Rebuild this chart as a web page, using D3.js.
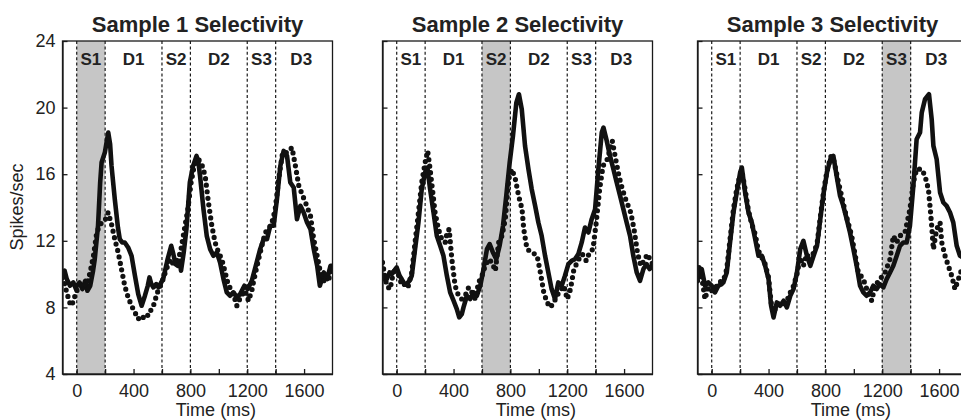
<!DOCTYPE html>
<html>
<head>
<meta charset="utf-8">
<script src="https://cdn.jsdelivr.net/npm/d3@7"></script>
<style>
body { margin:0; background:#fff; }
svg text { font-family: Arial, "Liberation Sans", Helvetica, sans-serif; fill:#222; }
</style>
</head>
<body>
<svg id="chart" width="961" height="420"></svg>
<script>
// titles, epochs and ticks
var panelTitles = ["Sample 1 Selectivity", "Sample 2 Selectivity", "Sample 3 Selectivity"];
var epochLines = [0, 200, 600, 800, 1200, 1400];
var epochNames = ["S1", "D1", "S2", "D2", "S3", "D3"];
var epochMid = [100, 400, 700, 1000, 1300, 1580];
var shadedEpoch = [[0, 200], [600, 800], [1200, 1400]];
var yTicks = [4, 8, 12, 16, 20, 24];
var xTicks = [0, 200, 400, 600, 800, 1000, 1200, 1400, 1600];

// firing rate traces [time ms, spikes/sec]
var p1Solid = [[-100,10.0],[-85,10.2],[-70,9.7],[-47,9.3],[-24,9.5],[-5,9.1],[0,9.3],[20,9.5],[40,9.1],[60,9.6],[75,9.0],[95,9.3],[115,10.2],[127,10.9],[150,12.9],[165,15.5],[175,16.7],[198,17.3],[212,18.0],[222,18.5],[235,17.8],[245,16.5],[268,14.5],[290,12.8],[303,12.1],[320,11.9],[338,11.9],[362,11.6],[386,11.1],[410,9.9],[433,8.8],[457,8.1],[480,8.7],[500,9.3],[512,9.8],[525,9.4],[540,9.2],[560,9.4],[576,9.2],[595,9.5],[611,9.8],[640,10.9],[665,11.7],[680,11.2],[695,10.6],[710,10.5],[725,10.8],[734,10.2],[753,11.3],[772,12.7],[796,15.5],[819,16.5],[843,17.1],[855,16.8],[868,15.9],[892,13.9],[915,12.3],[939,11.5],[962,11.1],[986,11.3],[1009,10.7],[1033,9.7],[1056,8.9],[1080,8.7],[1103,8.9],[1127,8.6],[1150,8.8],[1180,9.3],[1204,9.1],[1232,9.6],[1260,10.5],[1291,11.5],[1315,12.1],[1339,12.1],[1362,12.9],[1386,12.9],[1409,14.5],[1433,16.5],[1456,17.4],[1480,17.1],[1503,15.5],[1527,15.2],[1550,13.3],[1574,14.1],[1597,13.7],[1621,13.1],[1645,12.7],[1668,11.5],[1692,10.5],[1711,9.3],[1739,10.1],[1762,9.7],[1786,10.5],[1800,10.5]];
var p1Dotted = [[-100,9.8],[-85,9.4],[-70,8.9],[-50,8.3],[-35,8.1],[-20,8.5],[0,9.0],[20,9.2],[47,9.5],[70,9.3],[94,10.1],[118,11.1],[141,12.5],[165,13.0],[198,13.2],[221,13.7],[245,13.0],[268,12.1],[292,11.3],[315,10.3],[338,9.3],[362,8.6],[386,8.1],[410,7.7],[433,7.3],[450,7.5],[468,7.4],[485,7.6],[504,7.5],[520,7.8],[540,8.1],[568,8.9],[600,9.5],[631,10.3],[660,10.9],[680,10.6],[696,10.7],[715,11.0],[730,11.3],[758,12.7],[782,13.9],[805,15.5],[829,16.6],[857,16.9],[880,16.6],[904,15.9],[927,14.3],[951,12.9],[974,11.9],[998,11.3],[1021,10.9],[1045,10.1],[1068,9.3],[1096,9.0],[1127,8.1],[1157,8.7],[1185,9.0],[1209,8.4],[1232,9.0],[1256,10.0],[1280,10.9],[1303,11.7],[1327,12.5],[1350,12.7],[1374,13.1],[1397,13.9],[1421,15.7],[1449,17.3],[1480,17.3],[1515,17.6],[1539,16.5],[1563,15.3],[1586,14.8],[1610,14.3],[1645,13.5],[1668,12.1],[1692,11.1],[1715,10.1],[1739,9.6],[1774,9.7],[1800,10.5]];

var p2Solid = [[-100,9.9],[-90,9.7],[-70,9.7],[-50,10.1],[-35,10.0],[0,10.4],[20,9.9],[35,9.7],[55,9.4],[70,9.4],[90,9.6],[106,9.9],[129,11.5],[153,13.1],[176,15.1],[200,16.1],[216,16.4],[235,15.1],[259,13.7],[282,12.3],[306,11.7],[329,11.1],[353,9.9],[376,8.9],[400,8.4],[423,7.9],[440,7.4],[458,7.6],[470,8.0],[494,8.7],[517,8.5],[541,8.9],[564,8.7],[588,9.3],[611,10.3],[635,11.5],[654,11.8],[677,11.3],[701,10.9],[724,11.7],[748,12.9],[771,14.7],[795,16.7],[818,18.3],[842,20.3],[860,20.8],[880,19.9],[903,17.7],[927,16.3],[950,15.1],[974,14.1],[997,13.1],[1020,12.3],[1044,11.1],[1067,10.1],[1090,9.1],[1114,8.5],[1137,9.5],[1161,9.3],[1184,9.9],[1208,10.6],[1231,10.8],[1255,10.9],[1278,11.2],[1302,11.9],[1325,12.8],[1349,12.5],[1372,13.3],[1396,13.9],[1419,16.3],[1443,18.5],[1455,18.8],[1478,18.0],[1501,17.1],[1525,16.3],[1548,15.5],[1572,14.7],[1595,13.9],[1618,13.1],[1642,12.3],[1665,11.1],[1689,10.1],[1712,9.6],[1736,10.3],[1759,10.6],[1780,10.3],[1800,10.5]];
var p2Dotted = [[-100,10.7],[-90,10.2],[-70,9.3],[-47,9.1],[-30,9.8],[-12,10.4],[11,10.0],[30,9.5],[47,9.3],[65,9.5],[82,9.3],[106,10.1],[129,11.9],[153,13.7],[176,15.5],[200,16.7],[218,17.4],[235,16.3],[254,14.9],[270,13.7],[294,12.7],[317,12.1],[341,11.9],[355,12.5],[369,12.7],[388,10.9],[411,9.3],[435,8.7],[458,8.5],[482,8.7],[506,9.2],[529,8.9],[553,8.5],[576,9.5],[600,9.9],[623,10.5],[647,10.9],[670,10.7],[694,10.2],[717,11.9],[741,12.3],[764,13.3],[788,15.7],[811,16.3],[835,15.7],[858,14.7],[882,13.9],[894,12.7],[917,11.5],[953,11.3],[988,11.1],[1011,10.1],[1035,8.9],[1058,8.3],[1082,8.0],[1105,8.3],[1141,8.9],[1176,9.3],[1200,8.5],[1223,9.1],[1247,10.3],[1282,10.9],[1306,11.2],[1334,10.8],[1357,11.3],[1381,11.5],[1404,13.1],[1428,15.1],[1452,16.5],[1482,16.9],[1517,18.0],[1541,16.9],[1564,15.9],[1588,15.1],[1611,14.5],[1647,13.7],[1670,12.7],[1694,11.3],[1717,10.5],[1741,10.8],[1764,11.2],[1800,10.6]];

var p3Solid = [[-100,9.7],[-90,9.9],[-70,10.3],[-47,9.3],[-24,9.5],[0,9.3],[23,8.9],[47,9.3],[70,9.4],[82,9.5],[106,10.1],[129,11.9],[153,13.7],[176,14.9],[200,16.1],[212,16.4],[235,14.9],[259,13.7],[282,13.1],[306,12.1],[329,11.1],[353,11.1],[376,10.5],[400,9.7],[418,8.1],[435,7.4],[458,8.3],[482,8.1],[506,8.4],[529,8.0],[553,8.7],[576,9.1],[600,10.1],[623,11.5],[645,12.0],[670,11.1],[694,10.5],[717,11.1],[741,11.7],[764,13.3],[788,14.9],[811,16.1],[835,16.9],[856,17.1],[879,15.9],[903,14.7],[926,14.1],[950,13.3],[973,12.5],[997,11.5],[1020,10.5],[1044,9.3],[1067,8.9],[1091,8.7],[1114,8.9],[1137,9.3],[1161,9.1],[1184,9.4],[1208,9.2],[1231,9.7],[1255,10.1],[1278,10.5],[1302,11.1],[1325,11.7],[1349,11.9],[1372,11.9],[1395,12.9],[1419,15.3],[1442,18.1],[1466,18.5],[1478,19.7],[1501,20.5],[1529,20.8],[1548,19.3],[1560,17.7],[1583,16.9],[1607,14.9],[1630,14.3],[1653,14.1],[1677,13.7],[1700,13.1],[1724,11.7],[1747,11.1],[1770,11.0],[1800,11.0]];
var p3Dotted = [[-100,9.6],[-88,10.5],[-70,9.8],[-47,8.5],[-24,9.2],[0,9.0],[23,9.1],[47,9.5],[82,9.6],[106,10.3],[129,12.1],[153,13.9],[176,15.1],[200,16.0],[212,16.2],[235,15.1],[259,13.8],[282,13.0],[306,12.4],[329,11.4],[353,11.0],[376,10.6],[400,9.8],[418,8.3],[435,7.7],[458,8.1],[482,8.3],[506,8.2],[529,8.4],[553,8.9],[576,9.3],[600,10.0],[623,11.0],[645,10.5],[670,11.2],[694,10.8],[717,11.3],[741,11.8],[764,13.4],[788,15.0],[811,16.2],[840,17.1],[860,16.8],[890,15.6],[938,13.8],[985,12.3],[1032,10.1],[1067,9.7],[1091,9.1],[1126,8.4],[1149,9.3],[1184,9.7],[1220,10.1],[1255,10.9],[1278,12.3],[1302,11.9],[1325,12.3],[1360,12.5],[1395,13.9],[1419,15.5],[1442,16.3],[1478,16.3],[1501,15.9],[1525,15.1],[1536,14.1],[1548,12.9],[1560,11.5],[1583,12.7],[1607,13.1],[1619,11.9],[1642,11.1],[1665,10.5],[1689,9.9],[1712,9.1],[1736,9.7],[1760,10.3],[1800,10.6]];

var solidTraces = [p1Solid, p2Solid, p3Solid];
var dottedTraces = [p1Dotted, p2Dotted, p3Dotted];

var panelLeft = [62.5, 382.5, 697.5];
var plotW = 270, plotTop = 41, plotBottom = 374;
var ink = "#1a1a1a";

var svg = d3.select("#chart");

var y = d3.scaleLinear().domain([4, 24]).range([plotBottom, plotTop]);

panelTitles.forEach(function(title, i) {
    var left = panelLeft[i];
    var x = d3.scaleLinear().domain([-100, 1800]).range([left, left + plotW]);
    var g = svg.append("g").attr("class", "panel");

    g.append("clipPath").attr("id", "clip" + i)
        .append("rect")
        .attr("x", left).attr("y", plotTop)
        .attr("width", plotW).attr("height", plotBottom - plotTop);

    // shaded sample epoch
    g.append("rect")
        .attr("x", x(shadedEpoch[i][0]))
        .attr("y", plotTop)
        .attr("width", x(shadedEpoch[i][1]) - x(shadedEpoch[i][0]))
        .attr("height", plotBottom - plotTop)
        .attr("fill", "#c6c6c6");

    // epoch boundaries
    g.selectAll(".epoch").data(epochLines).enter().append("line")
        .attr("x1", function(d) { return x(d); })
        .attr("x2", function(d) { return x(d); })
        .attr("y1", plotTop).attr("y2", plotBottom)
        .attr("stroke", ink).attr("stroke-width", 1.2)
        .attr("stroke-dasharray", "3,2.4");

    g.selectAll(".epochName").data(epochNames).enter().append("text")
        .attr("x", function(d, k) { return x(epochMid[k]); })
        .attr("y", 65)
        .attr("text-anchor", "middle")
        .attr("font-size", "17px")
        .attr("font-weight", "bold")
        .text(function(d) { return d; });

    var line = d3.line()
        .x(function(d) { return x(d[0]); })
        .y(function(d) { return y(d[1]); });

    var traces = g.append("g").attr("clip-path", "url(#clip" + i + ")");

    traces.append("path")
        .attr("d", line(solidTraces[i]))
        .attr("fill", "none")
        .attr("stroke", "#111")
        .attr("stroke-width", 4.6)
        .attr("stroke-linejoin", "round")
        .attr("stroke-linecap", "round");

    traces.append("path")
        .attr("d", line(dottedTraces[i]))
        .attr("fill", "none")
        .attr("stroke", "#111")
        .attr("stroke-width", 5.2)
        .attr("stroke-linecap", "round")
        .attr("stroke-dasharray", "0,6.6");

    // axes, ticks pointing inward
    var xAxis = d3.axisBottom(x).tickValues(xTicks)
        .tickSizeInner(-5).tickSizeOuter(0).tickPadding(10)
        .tickFormat(function(d) { return d % 400 === 0 ? d : ""; });
    var gx = g.append("g").attr("transform", "translate(0," + plotBottom + ")").call(xAxis);
    gx.selectAll("text").attr("font-size", "18px").attr("fill", "#222");

    var yAxis = d3.axisLeft(y).tickValues(yTicks)
        .tickSizeInner(-5).tickSizeOuter(0).tickPadding(7)
        .tickFormat(function(d) { return i === 0 ? d : ""; });
    var gy = g.append("g").attr("transform", "translate(" + left + ",0)").call(yAxis);
    gy.selectAll("text").attr("font-size", "18px").attr("fill", "#222");

    [gx, gy].forEach(function(a) {
        a.selectAll("path, line").attr("stroke", ink).attr("stroke-width", 1.3);
    });

    // box
    g.append("rect")
        .attr("x", left).attr("y", plotTop)
        .attr("width", plotW).attr("height", plotBottom - plotTop)
        .attr("fill", "none").attr("stroke", ink).attr("stroke-width", 1.3);

    g.append("text")
        .attr("x", left + plotW / 2)
        .attr("y", 32)
        .attr("text-anchor", "middle")
        .attr("font-size", "22px")
        .attr("font-weight", "bold")
        .text(title);

    g.append("text")
        .attr("x", x(980))
        .attr("y", 416)
        .attr("text-anchor", "middle")
        .attr("font-size", "18px")
        .text("Time (ms)");
});

svg.append("text")
    .attr("transform", "translate(23,207) rotate(-90)")
    .attr("text-anchor", "middle")
    .attr("font-size", "18px")
    .text("Spikes/sec");
</script>
</body>
</html>
